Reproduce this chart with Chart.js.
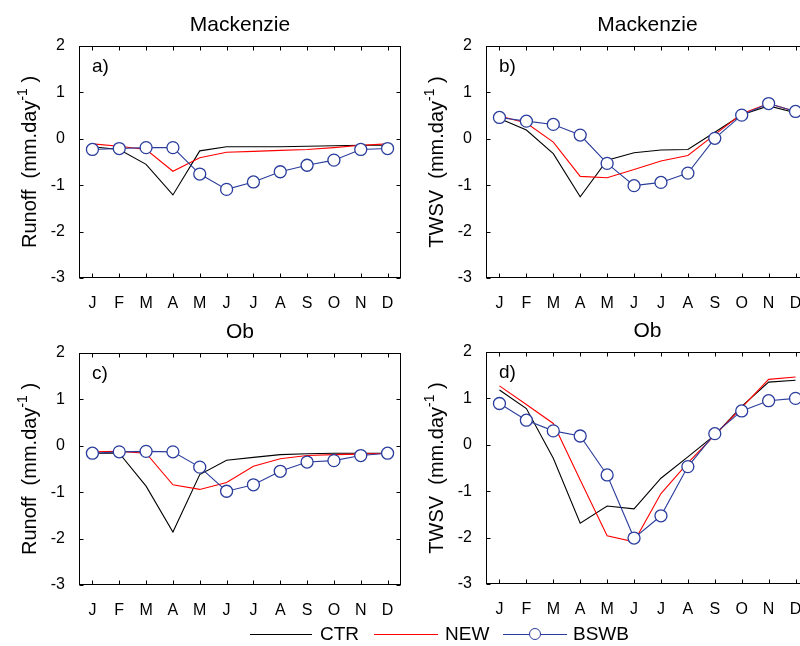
<!DOCTYPE html>
<html>
<head>
<meta charset="UTF-8">
<title>Mackenzie / Ob</title>
<script src="https://cdn.jsdelivr.net/npm/chart.js"></script>
<style>
  body {
    margin: 0;
    width: 800px;
    height: 646px;
    overflow: hidden;
    position: relative;
    background: #fff;
    font-family: "Liberation Sans", Arial, sans-serif;
  }
  canvas.panel { position: absolute; }
  .leg-line { position: absolute; height: 0; border-top: 1.3px solid #000; }
  .leg-text { position: absolute; font-size: 19px; line-height: 20px; color: #000; }
  .leg-dot {
    position: absolute; width: 10px; height: 10px; border-radius: 50%;
    border: 1.3px solid #2a3d9c; background: #fff;
  }
</style>
</head>
<body>

<canvas id="panelA" class="panel" width="410" height="320" style="left:0px;top:0px"></canvas>
<canvas id="panelB" class="panel" width="420" height="320" style="left:407px;top:0px"></canvas>
<canvas id="panelC" class="panel" width="410" height="320" style="left:0px;top:307px"></canvas>
<canvas id="panelD" class="panel" width="420" height="320" style="left:407px;top:306px"></canvas>

<div id="legend">
  <div class="leg-line" style="left:250px;top:634px;width:62px;border-color:#000"></div>
  <div class="leg-text" style="left:320px;top:624px">CTR</div>
  <div class="leg-line" style="left:374px;top:634px;width:64px;border-color:#ff0000"></div>
  <div class="leg-text" style="left:445px;top:624px">NEW</div>
  <div class="leg-line" style="left:503px;top:634px;width:64px;border-color:#2a3d9c"></div>
  <div class="leg-dot" style="left:529px;top:628px"></div>
  <div class="leg-text" style="left:573px;top:624px">BSWB</div>
</div>

<script>
// months and y ticks
var months = ['J', 'F', 'M', 'A', 'M', 'J', 'J', 'A', 'S', 'O', 'N', 'D'];
var yTicks = [-3, -2, -1, 0, 1, 2];

// a) Mackenzie runoff
var mackRunoffCTR  = [-0.17, -0.23, -0.55, -1.21, -0.26, -0.17, -0.17, -0.17, -0.16, -0.15, -0.14, -0.14];
var mackRunoffNEW  = [-0.11, -0.16, -0.23, -0.70, -0.41, -0.29, -0.27, -0.25, -0.23, -0.19, -0.14, -0.11];
var mackRunoffBSWB = [-0.23, -0.21, -0.19, -0.19, -0.76, -1.09, -0.93, -0.71, -0.57, -0.46, -0.23, -0.21];

// b) Mackenzie TWSV
var mackTwsvCTR  = [0.44, 0.19, -0.32, -1.25, -0.46, -0.30, -0.24, -0.23, 0.14, 0.52, 0.71, 0.56];
var mackTwsvNEW  = [0.49, 0.34, -0.07, -0.81, -0.84, -0.66, -0.48, -0.36, 0.09, 0.54, 0.76, 0.59];
var mackTwsvBSWB = [0.46, 0.38, 0.31, 0.08, -0.53, -1.01, -0.94, -0.74, 0.01, 0.51, 0.76, 0.59];

// c) Ob runoff
var obRunoffCTR  = [-0.16, -0.16, -0.87, -1.86, -0.62, -0.31, -0.25, -0.19, -0.17, -0.16, -0.16, -0.16];
var obRunoffNEW  = [-0.13, -0.12, -0.16, -0.84, -0.94, -0.79, -0.44, -0.28, -0.21, -0.19, -0.18, -0.16];
var obRunoffBSWB = [-0.16, -0.13, -0.12, -0.13, -0.46, -0.98, -0.84, -0.55, -0.35, -0.32, -0.21, -0.16];

// d) Ob TWSV
var obTwsvCTR  = [1.18, 0.78, -0.29, -1.69, -1.32, -1.38, -0.72, -0.26, 0.21, 0.83, 1.35, 1.39];
var obTwsvNEW  = [1.27, 0.87, 0.46, -0.76, -1.96, -2.09, -1.05, -0.39, 0.21, 0.80, 1.41, 1.46];
var obTwsvBSWB = [0.89, 0.53, 0.30, 0.19, -0.65, -2.01, -1.53, -0.47, 0.24, 0.73, 0.95, 1.00];

var FONT = '"Liberation Sans", Arial, sans-serif';
var BLUE = '#2a3d9c';

// box, inward ticks, title, panel letter and y label with superscript
var framePlugin = {
    id: 'frame',
    beforeDatasetsDraw: function (chart, args, opts) {
        var ctx = chart.ctx;
        var a = chart.chartArea;
        var xs = chart.scales.x, ys = chart.scales.y;
        var L = Math.round(a.left) + 0.5, R = Math.round(a.right) - 0.5;
        var T = Math.round(a.top) + 0.5, B = Math.round(a.bottom) - 0.5;
        ctx.save();
        ctx.strokeStyle = '#000';
        ctx.lineWidth = 1;
        ctx.strokeRect(L, T, R - L, B - T);
        ctx.beginPath();
        for (var i = 0; i < months.length; i++) {
            var px = Math.round(xs.getPixelForValue(i)) + 0.5;
            ctx.moveTo(px, B); ctx.lineTo(px, B - 4);
            ctx.moveTo(px, T); ctx.lineTo(px, T + 4);
        }
        yTicks.forEach(function (v) {
            var py = Math.round(ys.getPixelForValue(v)) + 0.5;
            ctx.moveTo(L, py); ctx.lineTo(L + 4, py);
            ctx.moveTo(R, py); ctx.lineTo(R - 4, py);
        });
        ctx.stroke();

        ctx.fillStyle = '#000';
        ctx.textBaseline = 'alphabetic';
        ctx.font = '21px ' + FONT;
        ctx.textAlign = 'center';
        ctx.fillText(opts.title, (a.left + a.right) / 2, a.top - 15);

        ctx.font = '19px ' + FONT;
        ctx.textAlign = 'left';
        ctx.fillText(opts.tag, a.left + 13, a.top + 26);

        // rotated y label
        var f1 = '20px ' + FONT, f2 = '14px ' + FONT;
        ctx.translate(a.left - 43.5, (a.top + a.bottom) / 2);
        ctx.rotate(-Math.PI / 2);
        ctx.font = f1;
        var w1 = ctx.measureText(opts.ylabel).width;
        var w3 = ctx.measureText(' )').width;
        ctx.font = f2;
        var w2 = ctx.measureText('-1').width;
        var x0 = -(w1 + w2 + w3) / 2;
        ctx.font = f1; ctx.fillText(opts.ylabel, x0, 0);
        ctx.font = f2; ctx.fillText('-1', x0 + w1, -9);
        ctx.font = f1; ctx.fillText(' )', x0 + w1 + w2, 0);
        ctx.restore();
    }
};

function makePanel(id, title, tag, ylabel, ctr, nw, bswb, padRight) {
    var ctx = document.getElementById(id).getContext('2d');
    return new Chart(ctx, {
        type: 'line',
        data: {
            labels: months,
            datasets: [{
                label: 'CTR',
                data: ctr,
                borderColor: '#000',
                borderWidth: 1.1,
                pointRadius: 0,
                order: 2
            }, {
                label: 'NEW',
                data: nw,
                borderColor: '#ff0000',
                borderWidth: 1.1,
                pointRadius: 0,
                order: 1
            }, {
                label: 'BSWB',
                data: bswb,
                borderColor: BLUE,
                borderWidth: 1.1,
                pointRadius: 6,
                pointBackgroundColor: '#fff',
                pointBorderColor: BLUE,
                pointBorderWidth: 1.3,
                order: 0
            }]
        },
        options: {
            responsive: false,
            animation: false,
            devicePixelRatio: 1,
            events: [],
            layout: { padding: { left: 0, right: padRight, top: 46, bottom: 0 } },
            plugins: {
                legend: { display: false },
                tooltip: { enabled: false },
                frame: { title: title, tag: tag, ylabel: ylabel }
            },
            scales: {
                x: {
                    type: 'category',
                    offset: true,
                    grid: { display: false },
                    border: { display: false },
                    ticks: {
                        color: '#000',
                        padding: 8,
                        maxRotation: 0,
                        autoSkip: false,
                        font: { family: FONT, size: 16 }
                    },
                    afterFit: function (scale) { scale.height = 42; }
                },
                y: {
                    min: -3,
                    max: 2,
                    grid: { display: false },
                    border: { display: false },
                    ticks: {
                        stepSize: 1,
                        color: '#000',
                        padding: 6,
                        font: { family: FONT, size: 16 }
                    },
                    afterFit: function (scale) { scale.width = 79; }
                }
            }
        },
        plugins: [framePlugin]
    });
}

makePanel('panelA', 'Mackenzie', 'a)', 'Runoff  (mm.day', mackRunoffCTR, mackRunoffNEW, mackRunoffBSWB, 9);
makePanel('panelB', 'Mackenzie', 'b)', 'TWSV  (mm.day', mackTwsvCTR, mackTwsvNEW, mackTwsvBSWB, 18);
makePanel('panelC', 'Ob', 'c)', 'Runoff  (mm.day', obRunoffCTR, obRunoffNEW, obRunoffBSWB, 9);
makePanel('panelD', 'Ob', 'd)', 'TWSV  (mm.day', obTwsvCTR, obTwsvNEW, obTwsvBSWB, 18);
</script>
</body>
</html>
